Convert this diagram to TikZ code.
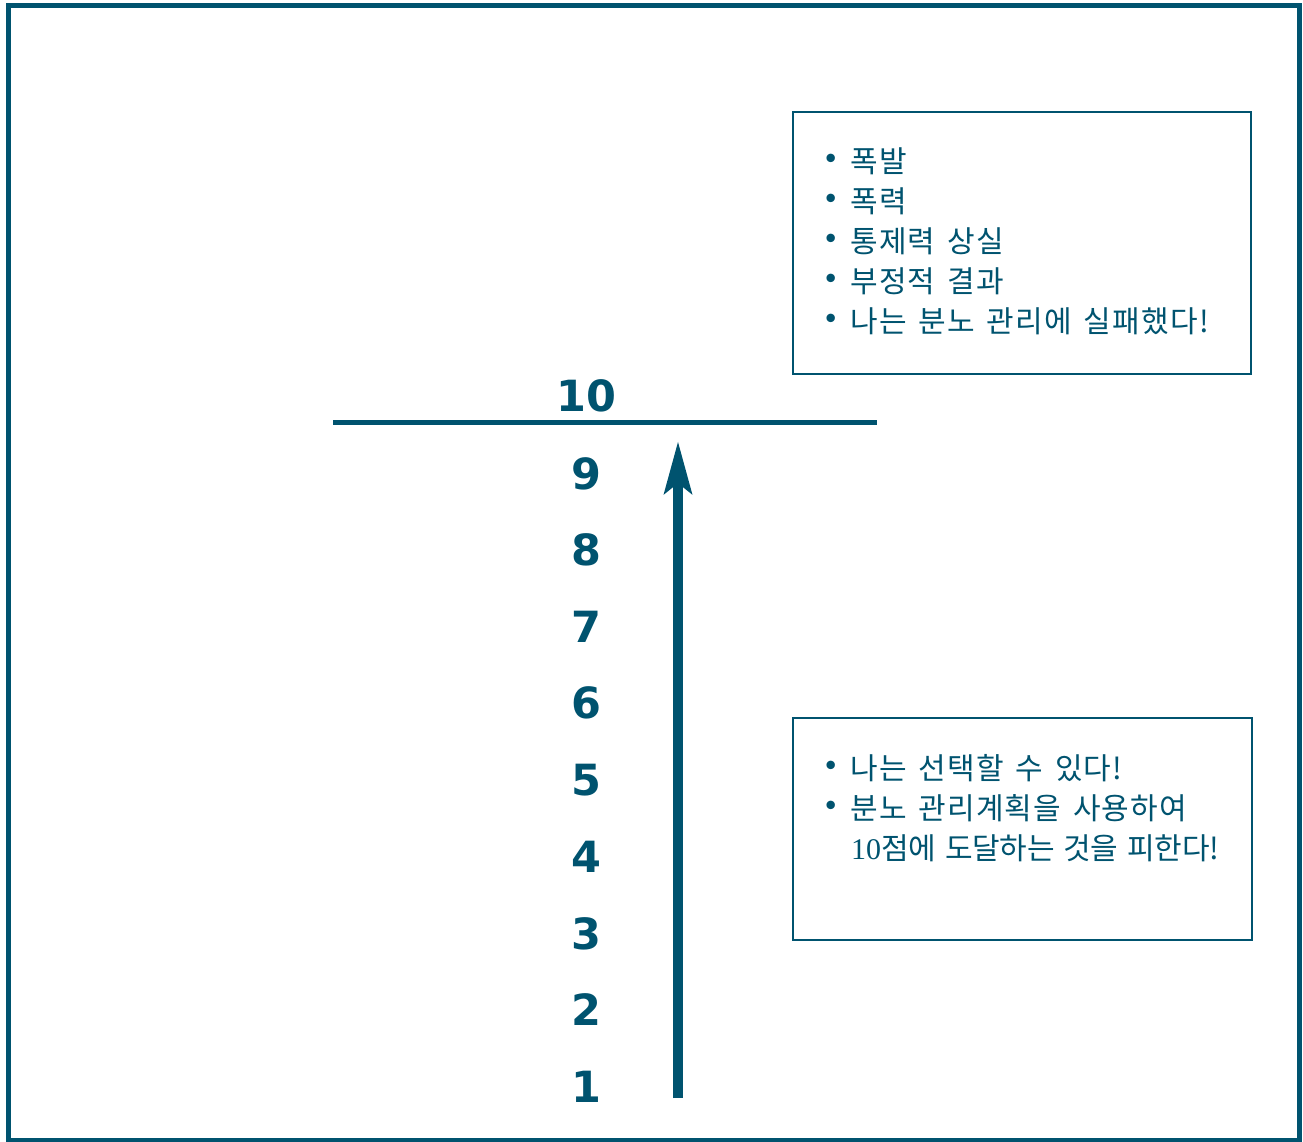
\documentclass[tikz,border=0pt]{standalone}
\usepackage{fontspec}
\newfontfamily\kr{Noto Sans CJK KR}[LetterSpace=4,WordSpace=1.5]
\newfontfamily\krtight{Noto Sans CJK KR}[LetterSpace=-1,WordSpace=1.4]
\newfontfamily\numfont{DejaVu Sans}
\newfontfamily\serifdig{Liberation Serif}
\usetikzlibrary{arrows.meta}
\definecolor{teal}{RGB}{0,83,111}
\tikzset{
  frame/.style={draw=teal, line width=5pt},
  box/.style={draw=teal, line width=2pt},
  krtext/.style={anchor=base west, inner sep=0pt, text=teal, font=\kr\fontsize{30}{32}\selectfont},
  bul/.style={inner sep=0pt, text=teal, font=\fontsize{38}{40}\selectfont},
  num/.style={inner sep=0pt, text=teal, font=\numfont\bfseries\fontsize{43}{50}\selectfont},
}
\begin{document}
\begin{tikzpicture}[x=1pt,y=-1pt]
\useasboundingbox (0,0) rectangle (1303,1141);
\draw[frame] (8.5,5.5) rectangle (1299.5,1140);
% boxes
\draw[box] (793,112) rectangle (1251,374);
\draw[box] (793,718) rectangle (1252,940);
% top box text
\foreach \t/\y [count=\i] in {폭발/172, 폭력/212, 통제력 상실/252, 부정적 결과/292, 나는 분노 관리에 실패했다!/332}{
  \node[bul] (tb\i) at (831,\y-11) {\textbullet};
  \node[krtext] (tt\i) at (850,\y) {\t};
}
\node[bul] (bb1) at (831,768) {\textbullet};
\node[krtext] (bt1) at (850,779) {나는 선택할 수 있다!};
\node[bul] (bb2) at (831,808) {\textbullet};
\node[krtext] (bt2) at (850,819) {분노 관리계획을 사용하여};
\node[krtext, font=\krtight\fontsize{30}{32}\selectfont] (bt3) at (851,859) {{\serifdig 10}점에 도달하는 것을 피한다!};
% scale
\node[num] (n10) at (586,396) {10};
\foreach \n/\y in {9/474,8/550,7/627,6/703,5/780,4/857,3/934,2/1010,1/1087}{
  \node[num] (n\n) at (586,\y) {\n};
}
\coordinate (la) at (333,422);
\coordinate (lb) at (877,422);
\draw[teal, line width=5pt] (la) -- (lb);
\coordinate (abot) at (678,1098);
\coordinate (atop) at (678,441);
\draw[teal, line width=10pt, -{Stealth[length=52pt,width=27pt,inset=10pt]}] (abot) -- (atop);
\end{tikzpicture}
\end{document}
